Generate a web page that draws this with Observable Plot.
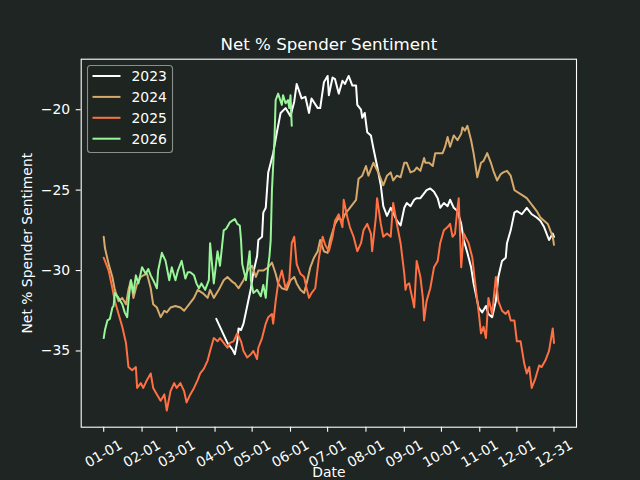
<!DOCTYPE html>
<html><head><meta charset="utf-8">
<script src="https://cdn.jsdelivr.net/npm/d3@7"></script>
<script src="https://cdn.jsdelivr.net/npm/@observablehq/plot@0.6"></script>
<style>
html,body{margin:0;padding:0;background:#1e2522;}
#chart{width:640px;height:480px;overflow:hidden;}
svg text{font-family:"DejaVu Sans",sans-serif;}
</style></head><body><div id="chart"></div>
<script>
const titleText = "Net % Spender Sentiment";
const xLabel = "Date";
const yLabel = "Net % Spender Sentiment";
const years = ["2023", "2024", "2025", "2026"];
const colors = ["#ffffff", "#d6a96c", "#ff7043", "#98f598"];
const tickLabels = ["01-01","02-01","03-01","04-01","05-01","06-01","07-01","08-01","09-01","10-01","11-01","12-01","12-31"];
const yTicks = [-35, -30, -25, -20];

// day of year (0 = Jan 1) and values
const days2023 = [91,94,97,100,102,104,106,108,109,111,113,116,119,121,124,125,128,129,131,133,137,140,143,147,151,154,156,160,163,166,168,173,175,178,181,182,185,187,190,193,195,198,201,204,205,208,209,211,213,216,218,221,224,226,229,232,234,237,240,243,245,248,251,253,256,259,261,264,267,270,272,275,278,280,283,286,289,291,294,297,299,302,303,306,309,311,314,317,319,322,325,326,329,332,334,338,342,346,350,353,356,359,360,363,364];
const vals2023 = [-33.0,-33.5,-34.0,-34.5,-34.7,-34.9,-35.2,-34.4,-33.6,-33.7,-33.3,-32.2,-31.1,-30.1,-29.1,-28.1,-27.9,-26.4,-26.1,-23.9,-22.7,-21.4,-20.2,-19.9,-20.4,-19.5,-18.4,-19.3,-19.2,-20.2,-19.3,-19.9,-19.9,-18.3,-17.9,-19.1,-18.0,-18.1,-19.0,-18.2,-18.4,-17.9,-18.5,-18.5,-19.7,-20.0,-20.5,-20.2,-21.4,-21.6,-22.4,-23.5,-24.7,-26.0,-26.6,-26.1,-26.4,-26.9,-27.2,-26.1,-25.8,-26.0,-25.6,-25.5,-25.5,-25.2,-25.0,-24.9,-25.1,-25.5,-26.1,-25.8,-26.0,-25.6,-26.1,-26.3,-27.1,-28.1,-28.9,-29.8,-30.8,-31.9,-32.3,-32.6,-32.2,-32.7,-32.9,-31.9,-30.4,-29.4,-29.2,-28.3,-27.5,-26.4,-26.3,-26.5,-26.1,-26.5,-26.7,-26.9,-27.3,-27.9,-28.1,-27.7,-27.9];

const days2024 = [0,1,4,7,9,12,15,18,20,22,24,27,30,32,35,38,40,43,46,49,51,54,58,62,65,69,73,76,80,84,86,89,93,97,100,104,106,109,113,117,120,123,125,129,133,136,139,141,144,148,151,154,156,159,162,164,167,170,173,175,178,181,183,187,190,193,195,199,204,206,209,212,214,218,222,226,229,232,234,237,240,243,245,248,251,253,256,259,260,263,266,268,271,274,276,278,280,283,286,289,290,292,294,297,299,302,305,307,310,313,315,318,321,323,326,329,332,334,338,342,345,348,350,353,356,359,361,363,364];
const vals2024 = [-27.9,-28.6,-29.6,-30.4,-31.2,-31.9,-31.7,-32.1,-31.2,-30.6,-31.7,-30.8,-30.4,-30.3,-30.2,-31.1,-32.1,-32.3,-32.9,-32.5,-32.6,-32.3,-32.2,-32.3,-32.5,-32.1,-31.7,-31.2,-31.4,-31.7,-31.2,-31.7,-31.2,-30.6,-30.4,-30.7,-30.8,-31.1,-30.6,-29.9,-29.7,-30.4,-30.0,-30.0,-29.8,-29.5,-30.2,-30.8,-31.1,-31.2,-30.6,-30.4,-30.8,-31.2,-31.4,-30.8,-29.8,-29.2,-28.8,-28.1,-28.8,-28.9,-28.1,-27.1,-26.7,-26.9,-26.5,-26.1,-25.6,-24.3,-24.1,-23.5,-24.1,-23.3,-23.9,-24.7,-24.1,-23.9,-24.4,-24.1,-24.2,-23.3,-23.3,-23.9,-23.8,-23.6,-23.8,-23.0,-23.3,-23.3,-23.5,-22.7,-22.7,-22.7,-22.3,-21.7,-22.3,-21.6,-21.9,-21.5,-21.1,-21.3,-21.0,-21.9,-22.7,-24.2,-23.3,-23.2,-22.7,-23.3,-23.8,-24.4,-24.0,-23.9,-23.8,-24.1,-25.0,-25.1,-25.3,-25.5,-25.8,-26.1,-26.3,-26.7,-26.9,-27.1,-27.5,-27.9,-28.4];

const days2025 = [0,1,4,7,9,12,15,18,20,23,26,27,30,32,35,38,40,43,46,49,51,54,57,59,62,65,67,70,73,76,78,81,84,86,89,92,94,97,100,102,105,108,111,113,116,119,121,124,125,128,131,133,136,137,139,141,144,147,150,152,154,156,159,162,164,166,168,171,174,177,179,182,185,187,190,193,194,197,199,202,205,208,210,213,216,217,220,221,224,226,229,232,234,237,240,243,244,245,247,248,250,251,253,256,258,259,261,264,267,270,272,275,278,280,282,284,286,287,288,289,291,295,298,300,303,305,307,309,311,314,317,319,322,325,327,329,332,334,337,340,342,344,346,349,352,354,357,360,363,364];
const vals2025 = [-29.2,-29.4,-30.0,-31.1,-31.9,-32.7,-33.5,-34.5,-36.0,-36.2,-36.0,-37.3,-37.0,-37.3,-36.8,-36.4,-37.3,-37.7,-38.1,-37.7,-38.7,-37.5,-37.0,-37.3,-37.0,-37.5,-38.2,-37.7,-37.3,-36.8,-36.4,-36.1,-35.6,-35.0,-34.2,-34.4,-34.2,-34.5,-34.8,-34.5,-34.4,-33.9,-34.4,-35.0,-35.4,-35.2,-35.0,-35.5,-34.8,-34.2,-33.3,-32.9,-32.7,-33.3,-31.9,-30.8,-30.0,-31.1,-30.6,-28.3,-27.9,-29.6,-30.2,-30.4,-31.1,-31.7,-31.4,-31.1,-29.2,-27.9,-28.4,-28.8,-27.9,-26.9,-26.5,-27.3,-25.6,-26.7,-27.3,-27.9,-28.8,-28.3,-27.5,-27.1,-27.7,-28.8,-26.7,-25.5,-27.1,-27.9,-27.7,-27.9,-25.8,-27.1,-28.3,-30.2,-31.2,-30.9,-30.8,-31.2,-31.9,-32.3,-29.4,-30.4,-31.7,-33.1,-31.9,-31.1,-29.8,-29.4,-28.3,-27.5,-27.3,-27.1,-27.9,-27.7,-26.1,-25.5,-27.7,-29.8,-27.7,-28.3,-29.2,-30.6,-32.5,-33.9,-33.5,-34.2,-31.7,-32.7,-30.4,-31.9,-32.5,-32.7,-32.5,-33.1,-33.1,-34.4,-34.4,-35.8,-36.4,-36.0,-37.3,-36.7,-35.9,-36.0,-35.6,-35.0,-33.6,-34.5];

const days2026 = [0,1,3,5,7,8,9,12,15,17,19,20,22,24,26,28,31,34,36,38,40,43,44,47,50,53,55,58,60,63,66,68,70,73,75,77,79,82,85,86,89,92,94,97,99,102,104,106,108,110,111,112,115,118,119,121,124,127,129,131,133,134,135,136,138,139,141,144,145,147,149,150,151,152];
const vals2026 = [-34.2,-33.7,-33.1,-33.0,-32.3,-32.2,-31.4,-31.7,-32.1,-32.6,-32.9,-31.9,-30.6,-31.4,-30.3,-30.8,-29.8,-30.2,-29.9,-30.3,-30.6,-31.1,-30.0,-28.9,-29.4,-30.6,-29.8,-30.6,-30.0,-29.4,-30.5,-30.1,-30.1,-30.3,-30.8,-31.1,-30.8,-31.2,-30.6,-28.3,-30.8,-28.8,-29.7,-27.5,-27.4,-27.0,-26.9,-26.8,-27.1,-27.2,-28.1,-29.6,-30.6,-28.8,-30.6,-31.4,-31.2,-31.6,-30.9,-31.7,-29.7,-29.1,-28.1,-25.0,-21.9,-19.4,-19.0,-19.7,-19.1,-19.6,-19.4,-19.9,-19.1,-21.0];

const series = [
  {year: "2023", days: days2023, vals: vals2023},
  {year: "2024", days: days2024, vals: vals2024},
  {year: "2025", days: days2025, vals: vals2025},
  {year: "2026", days: days2026, vals: vals2026}
];

const BASE_YEAR = 2001;
const toDate = d => new Date(Date.UTC(BASE_YEAR, 0, 1 + d));
const rows = [];
series.forEach(s => s.days.forEach((d, i) => rows.push({year: s.year, date: toDate(d), value: s.vals[i]})));
const parse = d3.utcParse("%Y-%m-%d");
const tickDates = tickLabels.map(l => parse(BASE_YEAR + "-" + l));

// matplotlib-like 5% auto margins
const pad = (lo, hi) => [lo - (hi - lo) * 0.05, hi + (hi - lo) * 0.05];
const [x0, x1] = d3.extent(rows, r => +r.date);
const xp = pad(x0, x1);
const xDomain = [new Date(xp[0]), new Date(xp[1])];
const yDomain = pad(...d3.extent(rows, r => r.value));

const BG = "#1e2522";
const ML = 80.7, MR = 64, MT = 58.7, MB = 53.3;
const FS = 13.9;
const fmt = d => (d < 0 ? "\u2212" : "") + Math.abs(d);

const chart = Plot.plot({
  width: 640, height: 480,
  marginLeft: ML, marginRight: MR, marginTop: MT, marginBottom: MB,
  style: {background: BG, color: "#ffffff", fontFamily: "DejaVu Sans, sans-serif", fontSize: FS + "px", overflow: "visible"},
  x: {type: "utc", domain: xDomain},
  y: {domain: yDomain},
  color: {domain: years, range: colors},
  marks: [
    Plot.line(rows, {x: "date", y: "value", z: "year", stroke: "year", strokeWidth: 2, strokeLinejoin: "round"}),
    Plot.frame({stroke: "#ffffff", strokeWidth: 1.1}),
    Plot.axisX({ticks: tickDates, tickSize: 5, tickFormat: () => "", stroke: "#ffffff", strokeWidth: 1.1, label: null}),
    Plot.text(tickDates, {x: d => d, text: (d, i) => tickLabels[i], frameAnchor: "bottom", dy: 26.6, rotate: -30,
      textAnchor: "middle", lineAnchor: "middle", fill: "#ffffff", fontSize: FS}),
    Plot.axisY({ticks: yTicks, tickSize: 5, tickPadding: 6, tickFormat: fmt, stroke: "#ffffff", strokeWidth: 1.1,
      fill: "#ffffff", fontSize: FS, label: null}),
    Plot.text([titleText], {frameAnchor: "top", dy: -9.5, lineAnchor: "bottom", fill: "#ffffff", fontSize: 16.67}),
    Plot.text([xLabel], {frameAnchor: "bottom", dy: 49.6, lineAnchor: "bottom", fill: "#ffffff", fontSize: FS}),
    Plot.text([yLabel], {frameAnchor: "left", dx: -54, rotate: -90, lineAnchor: "middle", textAnchor: "middle", fill: "#ffffff", fontSize: FS})
  ]
});
document.getElementById("chart").appendChild(chart);

// legend (matplotlib style, upper left)
const svg = d3.select(chart);
const lg = svg.append("g").attr("text-anchor", "start");
lg.append("rect").attr("x", 87.5).attr("y", 65.5).attr("width", 85).attr("height", 87)
  .attr("rx", 3).attr("fill", BG).attr("fill-opacity", 0.8)
  .attr("stroke", "#8a8f8c").attr("stroke-width", 1.1);
years.forEach((y, i) => {
  const cy = 76 + i * 20.9;
  lg.append("line").attr("x1", 92.5).attr("x2", 120.5).attr("y1", cy).attr("y2", cy)
    .attr("stroke", colors[i]).attr("stroke-width", 2);
  lg.append("text").attr("x", 131.5).attr("y", cy + 5.3).attr("fill", "#ffffff")
    .attr("text-anchor", "start").attr("font-size", FS).text(y);
});
</script></body></html>
